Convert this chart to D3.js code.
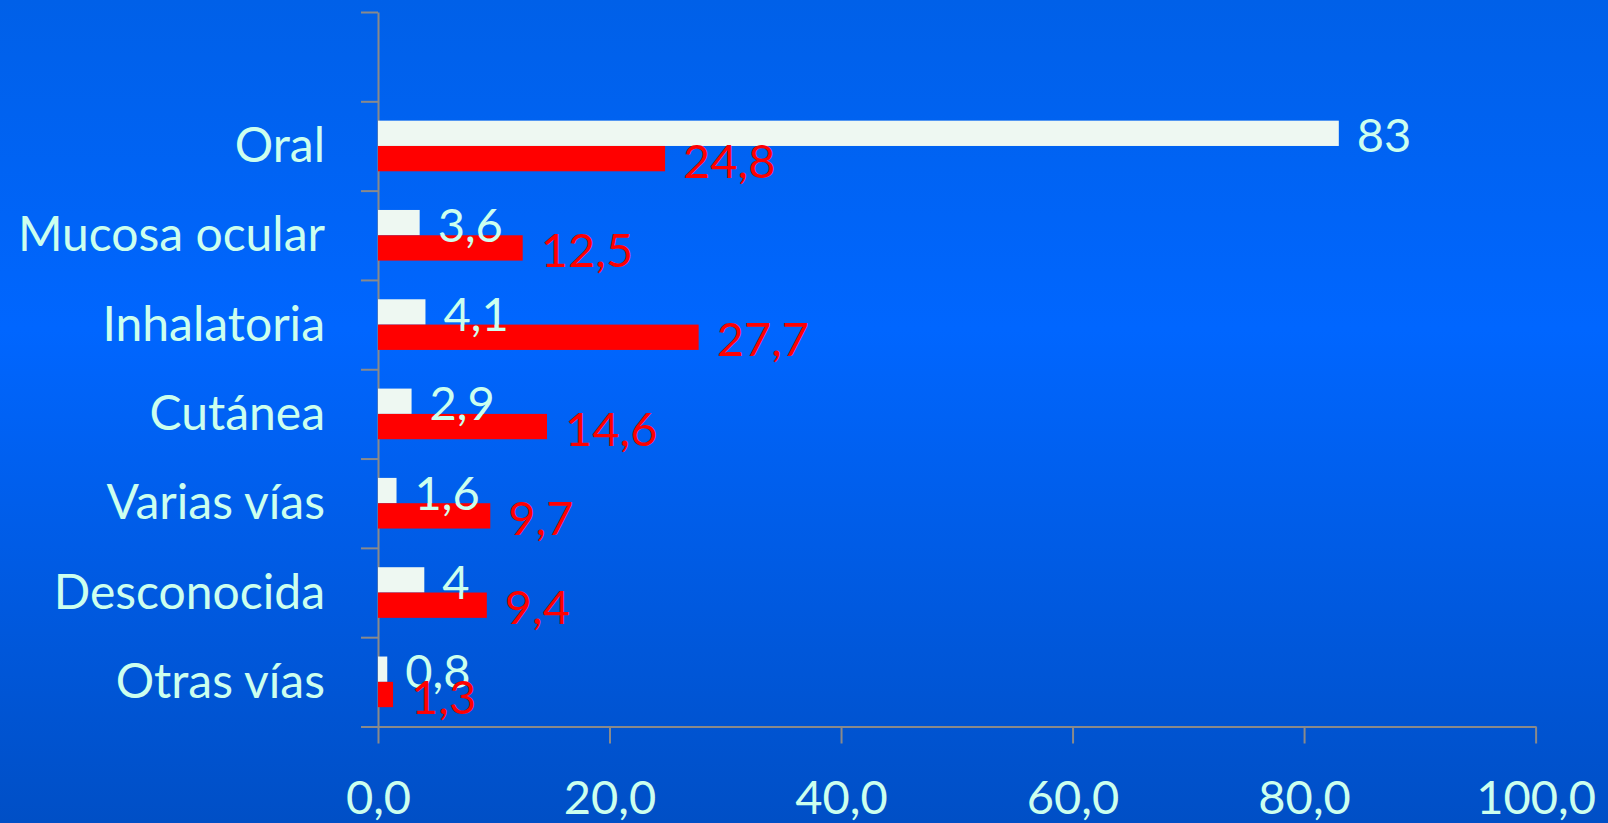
<!DOCTYPE html>
<html>
<head>
<meta charset="utf-8">
<script src="https://cdn.jsdelivr.net/npm/d3@7"></script>
<style>
  html, body { margin: 0; padding: 0; overflow: hidden; }
  body { width: 1608px; height: 823px; }
  svg text { font-family: Lato, "Open Sans", sans-serif; }
</style>
</head>
<body>
<svg id="chart" width="1608" height="823"></svg>
<script>
// ---- data ----
const categories = ["", "Oral", "Mucosa ocular", "Inhalatoria", "Cutánea", "Varias vías", "Desconocida", "Otras vías"];
const seriesWhite = [null, 83, 3.6, 4.1, 2.9, 1.6, 4, 0.8];
const seriesRed   = [null, 24.8, 12.5, 27.7, 14.6, 9.7, 9.4, 1.3];
const xTicks = [0, 20, 40, 60, 80, 100];
const seriesNames = ["white", "red"];

// ---- layout ----
const W = 1608, H = 823;
const plotLeft = 378, plotRight = 1535.6, plotTop = 12, plotBottom = 726.5;
const textColor = "#ccffee";
const axisColor = "#8a8a8a";
const colors = { white: "#eef8f2", red: "#ff0000" };

const svg = d3.select("#chart");

// background gradient
const defs = svg.append("defs");
const grad = defs.append("linearGradient").attr("id", "bg").attr("x1", 0).attr("y1", 0).attr("x2", 0).attr("y2", 1);
grad.append("stop").attr("offset", "0%").attr("stop-color", "#0060e8");
grad.append("stop").attr("offset", "40%").attr("stop-color", "#0066ff");
grad.append("stop").attr("offset", "100%").attr("stop-color", "#004fc6");
svg.append("rect").attr("width", W).attr("height", H).attr("fill", "url(#bg)");

// scales
const x = d3.scaleLinear().domain([0, 100]).range([plotLeft, plotRight]);
const y = d3.scaleBand().domain(categories.map((c, i) => i)).range([plotTop, plotBottom]).paddingInner(0).paddingOuter(0);
const ySub = d3.scaleBand().domain(seriesNames).range([0, y.step()]).paddingInner(0).paddingOuter(0.764);
const yIdx = d3.scaleLinear().domain([0, categories.length]).range([plotTop, plotBottom]);

// y axis (ticks at category boundaries)
const yAxis = svg.append("g").attr("transform", `translate(${plotLeft},0)`)
  .call(d3.axisLeft(yIdx).tickValues(d3.range(categories.length + 1)).tickFormat("").tickSize(17).tickSizeOuter(0));
yAxis.selectAll("path,line").attr("stroke", axisColor).attr("stroke-width", 2);

// x axis
const xAxis = svg.append("g").attr("transform", `translate(0,${plotBottom})`)
  .call(d3.axisBottom(x).tickValues(xTicks).tickSize(17).tickSizeOuter(0)
    .tickFormat(d => d3.format(".1f")(d).replace(".", ",")));
xAxis.selectAll("path,line").attr("stroke", axisColor).attr("stroke-width", 2);
xAxis.selectAll("text").attr("fill", textColor).attr("font-size", 47).attr("dy", 0).attr("y", 87);

// category labels
svg.append("g").selectAll("text").data(categories).join("text")
  .attr("x", plotLeft - 53)
  .attr("y", (d, i) => y(i) + y.step() / 2 + 16)
  .attr("text-anchor", "end")
  .attr("fill", textColor)
  .attr("font-size", 48)
  .text(d => d);

// bars
const fmt = v => String(v).replace(".", ",");
const rows = categories.map((c, i) => ({ i, white: seriesWhite[i], red: seriesRed[i] }));
const labelColor = { white: textColor, red: "#ff0000" };

const barLayer = svg.append("g");
const labelLayer = svg.append("g");

seriesNames.forEach(s => {
  const data = rows.filter(r => r[s] != null);
  barLayer.append("g").selectAll("rect").data(data).join("rect")
    .attr("x", x(0))
    .attr("y", r => y(r.i) + ySub(s))
    .attr("width", r => x(r[s]) - x(0))
    .attr("height", ySub.bandwidth())
    .attr("fill", colors[s]);
  labelLayer.append("g").selectAll("text").data(data).join("text")
    .attr("x", r => x(r[s]) + 18)
    .attr("y", r => y(r.i) + ySub(s) + ySub.bandwidth() + 6.5)
    .attr("fill", labelColor[s])
    .attr("font-size", 47)
    .text(r => fmt(r[s]));
});
</script>
</body>
</html>
